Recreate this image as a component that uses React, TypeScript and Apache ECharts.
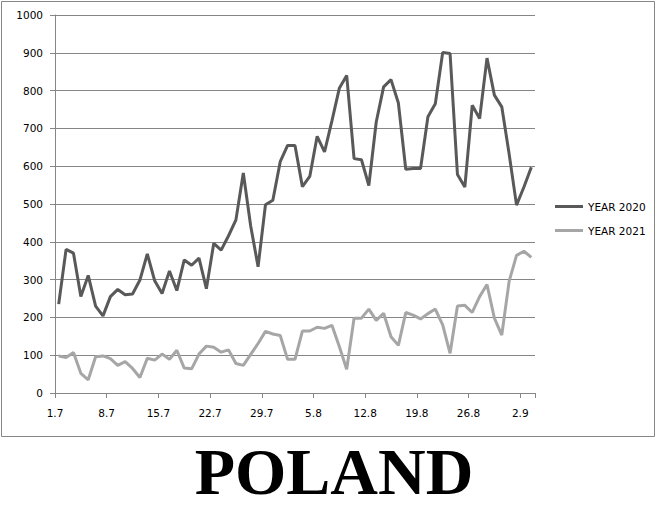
import { useEffect, useRef } from "react";
import * as echarts from "echarts";

const dates = [
  "1.7", "2.7", "3.7", "4.7", "5.7", "6.7", "7.7", "8.7", "9.7", "10.7",
  "11.7", "12.7", "13.7", "14.7", "15.7", "16.7", "17.7", "18.7", "19.7", "20.7",
  "21.7", "22.7", "23.7", "24.7", "25.7", "26.7", "27.7", "28.7", "29.7", "30.7",
  "31.7", "1.8", "2.8", "3.8", "4.8", "5.8", "6.8", "7.8", "8.8", "9.8",
  "10.8", "11.8", "12.8", "13.8", "14.8", "15.8", "16.8", "17.8", "18.8", "19.8",
  "20.8", "21.8", "22.8", "23.8", "24.8", "25.8", "26.8", "27.8", "28.8", "29.8",
  "30.8", "31.8", "1.9", "2.9", "3.9",
];

const year2020 = [
  235, 380, 370, 255, 311, 230, 204, 255, 274, 260,
  262, 299, 368, 297, 263, 323, 271, 352, 338, 357,
  276, 396, 378, 416, 458, 582, 442, 334, 498, 510,
  612, 655, 655, 546, 573, 679, 638, 720, 806, 840,
  620, 617, 549, 717, 810, 829, 767, 592, 594, 594,
  731, 765, 901, 898, 578, 545, 761, 726, 886, 788,
  757, 632, 497, 545, 597,
];

const year2021 = [
  98, 94, 107, 52, 35, 96, 98, 91, 73, 83,
  65, 41, 92, 87, 103, 89, 113, 66, 64, 103,
  124, 121, 108, 114, 78, 73, 102, 131, 163, 156,
  152, 89, 89, 164, 164, 174, 171, 179, 123, 63,
  198, 198, 222, 192, 211, 149, 126, 213, 206, 196,
  210, 222, 180, 105, 230, 232, 213, 255, 287, 198,
  153, 296, 364, 375, 359,
];

const seriesNames = ["YEAR 2020", "YEAR 2021"];
const yMin = 0;
const yMax = 1000;
const yInterval = 100;
const titleText = "POLAND";

export default function App() {
  const ref = useRef<HTMLDivElement>(null);
  useEffect(() => {
    const chart = echarts.init(ref.current!, null, { renderer: "svg" });
    const grey = "#868686";
    chart.setOption({
      animation: false,
      backgroundColor: "#ffffff",
      textStyle: { fontFamily: "DejaVu Sans" },
      grid: { left: 55, right: 123, top: 15, bottom: 113, containLabel: false },
      xAxis: {
        type: "category",
        data: dates,
        boundaryGap: true,
        axisLine: { show: true, lineStyle: { color: grey, width: 1 } },
        axisTick: { show: true, interval: 6, length: 5, lineStyle: { color: grey } },
        axisLabel: {
          interval: 6,
          color: "#000",
          fontSize: 10.5,
          fontFamily: "DejaVu Sans",
          margin: 14,
          padding: [0, 7.4, 0, 0],
        },
        splitLine: { show: false },
      },
      yAxis: {
        type: "value",
        min: yMin,
        max: yMax,
        interval: yInterval,
        axisLine: { show: true, lineStyle: { color: grey, width: 1 } },
        axisTick: { show: true, length: 5, lineStyle: { color: grey } },
        axisLabel: {
          color: "#000",
          fontSize: 10.5,
          fontFamily: "DejaVu Sans",
          margin: 12,
          formatter: (v: number) => String(v),
        },
        splitLine: { show: true, lineStyle: { color: grey, width: 1 } },
      },
      legend: {
        orient: "vertical",
        left: 550,
        top: 196,
        itemWidth: 28,
        itemHeight: 3,
        itemGap: 13,
        icon: "rect",
        textStyle: { fontSize: 10.5, color: "#000", fontFamily: "DejaVu Sans" },
        data: seriesNames,
      },
      series: [
        {
          name: seriesNames[0],
          type: "line",
          data: year2020,
          showSymbol: false,
          symbol: "none",
          lineStyle: { color: "#595959", width: 3 },
          itemStyle: { color: "#595959" },
          z: 3,
        },
        {
          name: seriesNames[1],
          type: "line",
          data: year2021,
          showSymbol: false,
          symbol: "none",
          lineStyle: { color: "#a6a6a6", width: 3 },
          itemStyle: { color: "#a6a6a6" },
          z: 2,
        },
      ],
      graphic: [
        {
          type: "rect",
          silent: true,
          z: -10,
          shape: { x: 1.5, y: 1.5, width: 653, height: 435 },
          style: { fill: "none", stroke: grey, lineWidth: 1 },
        },
        {
          type: "text",
          silent: true,
          x: 334,
          y: 471,
          style: {
            text: titleText,
            fontFamily: "Liberation Serif",
            fontWeight: "bold",
            fontSize: 66,
            lineHeight: 56,
            fill: "#000",
            align: "center",
            verticalAlign: "middle",
          },
        },
      ],
    });
    return () => chart.dispose();
  }, []);
  return (
    <div
      ref={ref}
      style={{ position: "absolute", left: 0, top: 0, width: 658, height: 506 }}
    />
  );
}
